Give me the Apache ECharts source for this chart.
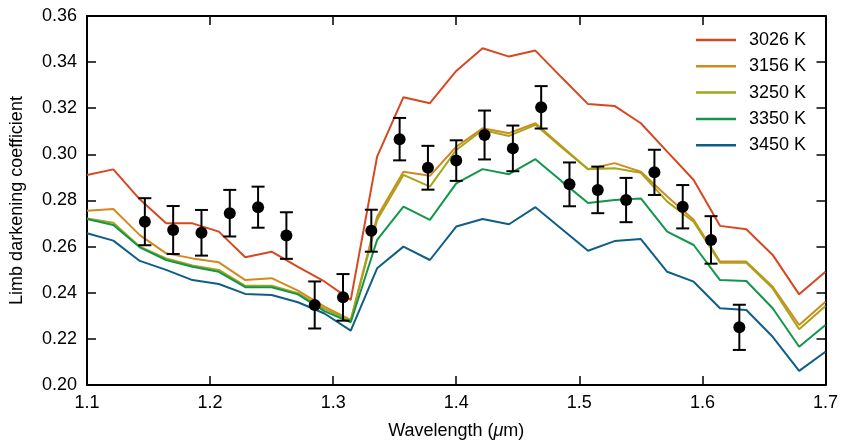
<!DOCTYPE html>
<html>
<head>
<meta charset="utf-8">
<script src="https://cdn.jsdelivr.net/npm/echarts@6/dist/echarts.min.js"></script>
<style>
html,body{margin:0;padding:0;background:#fff;}
#chart{width:841px;height:446px;}
</style>
</head>
<body>
<div id="chart"></div>
<script>
// Model wavelength grid (µm)
const modelWave = [1.1000,1.1214,1.1429,1.1643,1.1857,1.2071,1.2286,1.2500,1.2714,1.2929,1.3143,1.3357,1.3571,1.3786,1.4000,1.4214,1.4429,1.4643,1.4857,1.5071,1.5286,1.5500,1.5714,1.5929,1.6143,1.6357,1.6571,1.6786,1.7000];
const seriesNames = ['3026 K','3156 K','3250 K','3350 K','3450 K'];
const model3026 = [0.2911,0.2935,0.2805,0.2701,0.2701,0.2665,0.2554,0.2578,0.2512,0.2449,0.2369,0.2990,0.3248,0.3222,0.3362,0.3460,0.3424,0.3450,0.3333,0.3218,0.3210,0.3135,0.3012,0.2889,0.2690,0.2675,0.2564,0.2393,0.2491];
const model3156 = [0.2756,0.2763,0.2650,0.2571,0.2549,0.2532,0.2455,0.2463,0.2409,0.2340,0.2282,0.2730,0.2925,0.2907,0.3033,0.3113,0.3092,0.3135,0.3035,0.2936,0.2962,0.2925,0.2817,0.2716,0.2535,0.2535,0.2426,0.2260,0.2361];
const model3250 = [0.2722,0.2704,0.2600,0.2549,0.2518,0.2499,0.2430,0.2430,0.2398,0.2330,0.2280,0.2716,0.2911,0.2860,0.3019,0.3106,0.3080,0.3128,0.3030,0.2936,0.2940,0.2920,0.2795,0.2708,0.2530,0.2530,0.2419,0.2242,0.2343];
const model3350 = [0.2720,0.2694,0.2597,0.2542,0.2513,0.2491,0.2424,0.2424,0.2393,0.2320,0.2272,0.2629,0.2773,0.2716,0.2874,0.2936,0.2914,0.2979,0.2883,0.2789,0.2802,0.2809,0.2665,0.2607,0.2455,0.2451,0.2333,0.2166,0.2260];
const model3450 = [0.2658,0.2626,0.2538,0.2499,0.2455,0.2438,0.2395,0.2390,0.2359,0.2310,0.2236,0.2506,0.2600,0.2542,0.2687,0.2720,0.2697,0.2771,0.2676,0.2582,0.2624,0.2633,0.2491,0.2448,0.2333,0.2325,0.2209,0.2061,0.2144];

// Observed values
const obsWave = [1.147,1.170,1.193,1.216,1.239,1.262,1.285,1.308,1.331,1.354,1.377,1.400,1.423,1.446,1.469,1.492,1.515,1.538,1.561,1.584,1.607,1.630];
const obsValue = [0.2708,0.2672,0.2660,0.2745,0.2771,0.2648,0.2347,0.2380,0.2669,0.3066,0.2942,0.2973,0.3084,0.3026,0.3204,0.2870,0.2846,0.2802,0.2922,0.2773,0.2629,0.2250];
const obsError = [0.0102,0.0104,0.0099,0.0101,0.0089,0.0101,0.0102,0.0101,0.0091,0.0092,0.0095,0.0088,0.0106,0.0099,0.0092,0.0095,0.0101,0.0096,0.0098,0.0094,0.0103,0.0098];

const xTicks = [1.1,1.2,1.3,1.4,1.5,1.6,1.7];
const yTicks = [0.20,0.22,0.24,0.26,0.28,0.30,0.32,0.34,0.36];

const colors = ['#d6481f','#d2891f','#a6a417','#12974a','#0f5e85'];
const models = [model3026, model3156, model3250, model3350, model3450];

const FONT = '"Liberation Sans", Arial, sans-serif';
const chart = echarts.init(document.getElementById('chart'), null, {renderer:'canvas'});

const lineSeries = models.map((m, i) => ({
  name: seriesNames[i],
  type: 'line',
  data: modelWave.map((w, j) => [w, m[j]]),
  showSymbol: false,
  symbol: 'none',
  lineStyle: {color: colors[i], width: 2},
  itemStyle: {color: colors[i]},
  z: 2 + i,
  animation: false
}));

const errSeries = {
  type: 'custom',
  data: obsWave.map((w, i) => [w, obsValue[i], obsError[i]]),
  renderItem: function (params, api) {
    const x = api.value(0), y = api.value(1), e = api.value(2);
    const top = api.coord([x, y + e]);
    const bot = api.coord([x, y - e]);
    const hw = 6.5;
    const st = {stroke: '#000', lineWidth: 2, fill: null};
    return {
      type: 'group',
      children: [
        {type: 'line', shape: {x1: top[0], y1: top[1], x2: bot[0], y2: bot[1]}, style: st},
        {type: 'line', shape: {x1: top[0]-hw, y1: top[1], x2: top[0]+hw, y2: top[1]}, style: st},
        {type: 'line', shape: {x1: bot[0]-hw, y1: bot[1], x2: bot[0]+hw, y2: bot[1]}, style: st}
      ]
    };
  },
  z: 10,
  animation: false
};

const pointSeries = {
  type: 'scatter',
  data: obsWave.map((w, i) => [w, obsValue[i]]),
  symbol: 'circle',
  symbolSize: 12,
  itemStyle: {color: '#000', opacity: 1},
  z: 11,
  animation: false
};

const axisLine = {show: true, lineStyle: {color: '#000', width: 2}};
const axisTick = {show: true, inside: true, length: 9, lineStyle: {color: '#000', width: 1.5}};

chart.setOption({
  animation: false,
  backgroundColor: '#fff',
  textStyle: {fontFamily: FONT},
  grid: {left: 87, right: 15, top: 16, bottom: 61, show: false},
  legend: {
    data: seriesNames,
    orient: 'vertical',
    left: 691,
    top: 25,
    icon: 'rect',
    itemWidth: 40,
    itemHeight: 2.5,
    itemGap: 6.3,
    textStyle: {fontFamily: FONT, fontSize: 18, color: '#000', lineHeight: 20, padding: [0,0,0,8]},
    selectedMode: false
  },
  xAxis: [{
    type: 'value', min: 1.1, max: 1.7, interval: 0.1,
    axisLine: axisLine, axisTick: axisTick, splitLine: {show: false},
    axisLabel: {fontFamily: FONT, fontSize: 18, color: '#000', margin: 9,
      formatter: v => v.toFixed(1)},
    name: '{a|Wavelength (}{i|μ}{a|m)}',
    nameLocation: 'middle',
    nameGap: 37,
    nameTextStyle: {rich: {
      a: {fontFamily: FONT, fontSize: 18, color: '#000'},
      i: {fontFamily: FONT, fontSize: 18, color: '#000', fontStyle: 'italic'}
    }}
  }, {
    type: 'value', position: 'top', min: 1.1, max: 1.7, interval: 0.1,
    axisLine: axisLine, axisTick: axisTick, splitLine: {show: false},
    axisLabel: {show: false}
  }],
  yAxis: [{
    type: 'value', min: 0.2, max: 0.36, interval: 0.02,
    axisLine: axisLine, axisTick: axisTick, splitLine: {show: false},
    axisLabel: {fontFamily: FONT, fontSize: 18, color: '#000', margin: 10,
      formatter: v => v.toFixed(2)},
    name: 'Limb darkening coefficient',
    nameLocation: 'middle',
    nameGap: 61,
    nameTextStyle: {fontFamily: FONT, fontSize: 18, color: '#000'}
  }, {
    type: 'value', position: 'right', min: 0.2, max: 0.36, interval: 0.02,
    axisLine: axisLine, axisTick: axisTick, splitLine: {show: false},
    axisLabel: {show: false}
  }],
  series: [...lineSeries, errSeries, pointSeries]
});
</script>
</body>
</html>
